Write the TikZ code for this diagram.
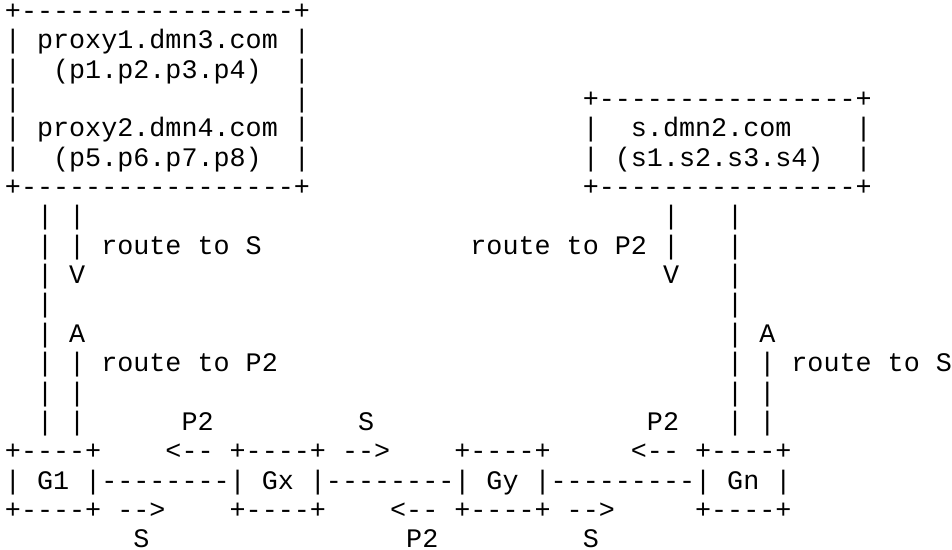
\documentclass[tikz,border=0pt]{standalone}
\usepackage{fontspec}
\setmonofont{Liberation Mono}
\begin{document}
\begin{tikzpicture}[txt/.style={anchor=base west,inner sep=0pt,outer sep=0pt,font=\fontsize{13.375pt}{14.7pt}\selectfont\ttfamily}]
\useasboundingbox (0,0) rectangle (476pt,-275pt);
\begin{scope}[shift={(2.49pt,-9.75pt)},x=8.025pt,y=-14.675pt]
% proxy box
\node[txt] (px0) at (0,0) {+-----------------+};
\node[txt] (px1) at (0,1) {|~proxy1.dmn3.com~|};
\node[txt] (px2) at (0,2) {|~~(p1.p2.p3.p4)~~|};
\node[txt] (px3l) at (0,3) {|};
\node[txt] (px3r) at (18,3) {|};
\node[txt] (px4) at (0,4) {|~proxy2.dmn4.com~|};
\node[txt] (px5) at (0,5) {|~~(p5.p6.p7.p8)~~|};
\node[txt] (px6) at (0,6) {+-----------------+};
% server box
\node[txt] (sv3) at (36,3) {+----------------+};
\node[txt] (sv4l) at (36,4) {|};
\node[txt] (sv4t) at (39,4) {s.dmn2.com};
\node[txt] (sv4r) at (53,4) {|};
\node[txt] (sv5l) at (36,5) {|};
\node[txt] (sv5t) at (38,5) {(s1.s2.s3.s4)};
\node[txt] (sv5r) at (53,5) {|};
\node[txt] (sv6) at (36,6) {+----------------+};
% left vertical routes
\node[txt] (l7a) at (2,7) {|};
\node[txt] (l7b) at (4,7) {|};
\node[txt] (l8a) at (2,8) {|};
\node[txt] (l8b) at (4,8) {|};
\node[txt] (l8t) at (6,8) {route~to~S};
\node[txt] (l9a) at (2,9) {|};
\node[txt] (l9b) at (4,9) {V};
\node[txt] (l10a) at (2,10) {|};
\node[txt] (l11a) at (2,11) {|};
\node[txt] (l11b) at (4,11) {A};
\node[txt] (l12a) at (2,12) {|};
\node[txt] (l12b) at (4,12) {|};
\node[txt] (l12t) at (6,12) {route~to~P2};
\node[txt] (l13a) at (2,13) {|};
\node[txt] (l13b) at (4,13) {|};
\node[txt] (l14a) at (2,14) {|};
\node[txt] (l14b) at (4,14) {|};
% right vertical routes
\node[txt] (r7a) at (41,7) {|};
\node[txt] (r7b) at (45,7) {|};
\node[txt] (r8t) at (29,8) {route~to~P2};
\node[txt] (r8a) at (41,8) {|};
\node[txt] (r8b) at (45,8) {|};
\node[txt] (r9a) at (41,9) {V};
\node[txt] (r9b) at (45,9) {|};
\node[txt] (r10b) at (45,10) {|};
\node[txt] (r11b) at (45,11) {|};
\node[txt] (r11c) at (47,11) {A};
\node[txt] (r12b) at (45,12) {|};
\node[txt] (r12c) at (47,12) {|};
\node[txt] (r12t) at (49,12) {route~to~S};
\node[txt] (r13b) at (45,13) {|};
\node[txt] (r13c) at (47,13) {|};
\node[txt] (r14b) at (45,14) {|};
\node[txt] (r14c) at (47,14) {|};
% labels above gateway row
\node[txt] (t14a) at (11,14) {P2};
\node[txt] (t14b) at (22,14) {S};
\node[txt] (t14c) at (40,14) {P2};
% gateway row
\node[txt] (g15a) at (0,15) {+----+};
\node[txt] (g15b) at (10,15) {<--};
\node[txt] (g15c) at (14,15) {+----+};
\node[txt] (g15d) at (21,15) {-->};
\node[txt] (g15e) at (28,15) {+----+};
\node[txt] (g15f) at (39,15) {<--};
\node[txt] (g15g) at (43,15) {+----+};
\node[txt] (g16) at (0,16) {|~G1~|--------|~Gx~|--------|~Gy~|---------|~Gn~|};
\node[txt] (g17a) at (0,17) {+----+};
\node[txt] (g17b) at (7,17) {-->};
\node[txt] (g17c) at (14,17) {+----+};
\node[txt] (g17d) at (24,17) {<--};
\node[txt] (g17e) at (28,17) {+----+};
\node[txt] (g17f) at (35,17) {-->};
\node[txt] (g17g) at (43,17) {+----+};
% labels below gateway row
\node[txt] (b18a) at (8,18) {S};
\node[txt] (b18b) at (25,18) {P2};
\node[txt] (b18c) at (36,18) {S};
\end{scope}
\end{tikzpicture}
\end{document}
